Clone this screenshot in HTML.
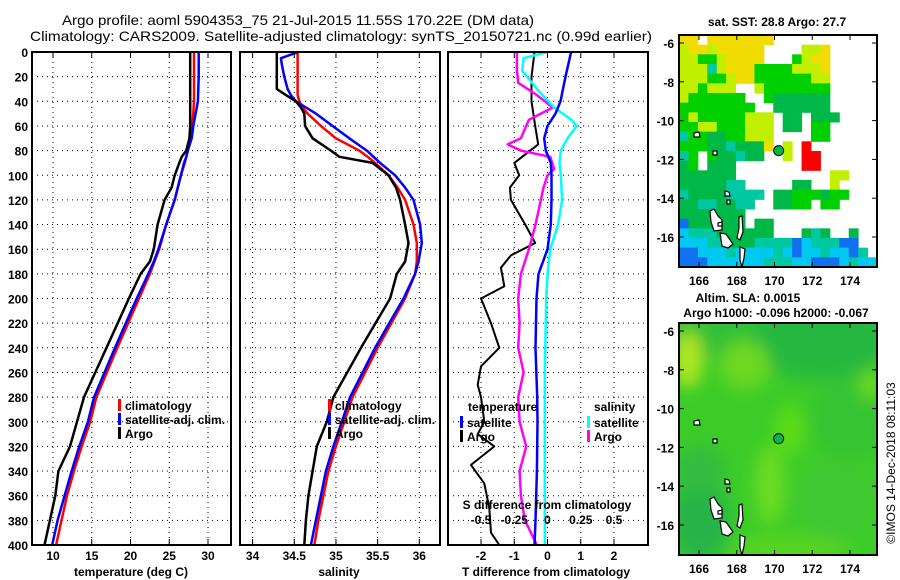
<!DOCTYPE html>
<html><head><meta charset="utf-8"><style>
body{margin:0;background:#fff;}
svg{display:block;font-family:"Liberation Sans",Arial,sans-serif;}
.t{font-size:12px;font-weight:bold;fill:#000;}
</style></head><body>
<svg id="chart" width="900" height="580" viewBox="0 0 900 580" xmlns="http://www.w3.org/2000/svg">
<rect width="900" height="580" fill="#fff"/>
<text x="298" y="25" text-anchor="middle" font-size="14" textLength="472" lengthAdjust="spacingAndGlyphs">Argo profile: aoml 5904353_75 21-Jul-2015 11.55S 170.22E (DM data)</text>
<text x="341" y="41" text-anchor="middle" font-size="14" textLength="622" lengthAdjust="spacingAndGlyphs">Climatology: CARS2009. Satellite-adjusted climatology: synTS_20150721.nc (0.99d earlier)</text>
<g id="plots"></g>
<g id="maps"></g>
</svg>
<script>
// ---- data ----
const depthTicks = [0,20,40,60,80,100,120,140,160,180,200,220,240,260,280,300,320,340,360,380,400];
const tempTicks = [10,15,20,25,30];
const salTicks = [34,34.5,35,35.5,36];
const salTickLabels = ["34","34.5","35","35.5","36"];
const tdiffTicks = [-2,-1,0,1,2];
const sdiffTicks = [-0.5,-0.25,0,0.25,0.5];
const sdiffTickLabels = ["-0.5","-0.25","0","0.25","0.5"];

const tempDepth = [0,20,40,60,70,80,85,90,100,110,120,140,160,170,180,200,240,280,300,320,340,360,380,400];
const tempClim = [28.2,28.2,28.2,28.0,27.8,27.4,27.2,27.0,26.5,26.1,25.7,24.6,23.7,23.1,22.5,21.1,18.3,15.6,14.8,13.7,12.7,11.8,11.1,10.4];
const tempSat = [28.8,28.8,28.7,28.1,27.9,27.4,27.2,26.9,26.5,26.1,25.7,24.6,23.6,23.0,22.3,20.8,18.0,15.3,14.5,13.4,12.4,11.5,10.6,9.9];
const tempArgo = [27.7,27.7,27.7,27.7,27.6,27.2,26.6,26.3,25.7,25.3,24.4,23.5,23.0,22.5,21.3,19.8,16.9,14.0,13.1,12.2,10.7,10.3,9.6,8.9];

const salDepth = [0,5,10,20,30,35,40,45,50,60,70,80,85,90,100,110,120,140,155,170,180,200,240,280,300,320,340,360,380,400];
const salClim = [34.54,34.54,34.54,34.54,34.54,34.54,34.56,34.6,34.66,34.82,35.0,35.28,35.38,35.47,35.63,35.74,35.83,35.93,35.97,35.97,35.95,35.83,35.5,35.2,35.1,35.0,34.91,34.85,34.79,34.74];
const salSat = [34.55,34.34,34.35,34.38,34.42,34.46,34.52,34.64,34.76,34.96,35.16,35.37,35.45,35.53,35.71,35.83,35.93,36.01,36.03,35.99,35.95,35.81,35.47,35.17,35.07,34.97,34.88,34.82,34.76,34.70];
const salArgo = [34.29,34.29,34.29,34.29,34.29,34.4,34.52,34.58,34.62,34.63,34.72,34.94,35.04,35.44,35.63,35.72,35.77,35.83,35.87,35.83,35.73,35.65,35.3,34.97,34.89,34.77,34.72,34.67,34.64,34.62];

const tSatDepth = [0,20,40,50,60,70,80,90,100,120,140,160,180,200,240,280,300,340,380,400];
const tSatDiff = [0.71,0.54,0.39,0.24,0,-0.1,-0.05,0.1,0.12,0.12,0.1,0,-0.27,-0.33,-0.36,-0.31,-0.3,-0.32,-0.36,-0.39];
const tArgoDepth = [0,20,40,60,75,80,90,100,110,120,140,155,165,175,190,200,220,240,255,270,280,300,310,320,335,350,370,390,400];
const tArgoDiff = [-0.39,-0.48,-0.48,-0.37,-0.28,-0.52,-1.0,-0.85,-1.13,-1.1,-0.67,-0.37,-1.1,-1.4,-1.3,-2.0,-1.7,-1.45,-2.0,-2.1,-2.0,-1.9,-2.1,-1.6,-2.3,-1.9,-1.75,-1.7,-1.45];
const sSatDepth = [0,5,15,30,45,55,60,70,80,90,100,120,140,160,180,200,260,300,400];
const sSatDiff = [0,-0.18,-0.19,-0.08,0.05,0.18,0.22,0.15,0.1,0.09,0.1,0.11,0.08,0.02,0,-0.01,-0.02,-0.02,-0.02];
const sArgoDepth = [0,15,25,35,45,50,55,60,65,70,75,80,85,95,100,110,120,140,160,180,200,220,240,260,280,300,320,340,360,380,400];
const sArgoDiff = [-0.23,-0.23,-0.22,-0.08,0.04,-0.05,-0.14,-0.16,-0.18,-0.2,-0.3,-0.2,0.02,0.05,0,-0.03,-0.05,-0.09,-0.14,-0.2,-0.22,-0.21,-0.22,-0.18,-0.22,-0.21,-0.16,-0.21,-0.2,-0.17,-0.08];

// ---- helpers ----
const NS="http://www.w3.org/2000/svg";
const plots=document.getElementById('plots');
function mk(tag,attrs,parent){const e=document.createElementNS(NS,tag);for(const k in attrs)e.setAttribute(k,attrs[k]);(parent||plots).appendChild(e);return e;}
const yTop=52,yBot=545;
function yD(d){return yTop+(d/400)*(yBot-yTop);}
function lin(d0,d1,r0,r1){return v=>r0+(v-d0)/(d1-d0)*(r1-r0);}

const xT=lin(10,30,53,208);
const xS=lin(34,36,252.6,419.3);
const xTd=lin(-2,2,481,614);
const xSd=lin(-0.5,0.5,481,614);

const panels=[{x0:32,x1:231,name:'temperature-panel'},{x0:240,x1:440,name:'salinity-panel'},{x0:448,x1:648,name:'difference-panel'}];

function grid(p,xs,scale){
  depthTicks.forEach(d=>{if(d>0&&d<400){const l=mk('line',{x1:p.x0,x2:p.x1,y1:yD(d),y2:yD(d),stroke:'#000','stroke-width':1,'stroke-dasharray':'1,4'});

}});
  xs.forEach(v=>{const x=scale(v);if(x>p.x0+2&&x<p.x1-2){const l=mk('line',{x1:x,x2:x,y1:yTop,y2:yBot,stroke:'#000','stroke-width':1,'stroke-dasharray':'1,4'});


mk('line',{x1:x,x2:x,y1:yTop,y2:yTop+6,stroke:'#000'});mk('line',{x1:x,x2:x,y1:yBot,y2:yBot-6,stroke:'#000'});}});
}
function frame(p){const r=mk('rect',{x:p.x0,y:yTop,width:p.x1-p.x0,height:yBot-yTop,fill:'none',stroke:'#000','stroke-width':2});

}
function series(depths,vals,scale,color,w,name){
  const pts=depths.map((d,i)=>scale(vals[i]).toFixed(1)+','+yD(d).toFixed(1)).join(' ');
  const pl=mk('polyline',{points:pts,fill:'none',stroke:color,'stroke-width':w,'stroke-linejoin':'round'});
  
  
}
function text(x,y,s,anchor,name,extra){const t=mk('text',Object.assign({x:x,y:y,'text-anchor':anchor||'start',class:'t'},extra||{}));t.textContent=s;

return t;}
function legend(x,y,color,label,name){const b=mk('rect',{x:x,y:y-8,width:3,height:12,fill:color});


text(x+7,y+3,label,'start',name);}

grid(panels[0],tempTicks,xT);
grid(panels[1],salTicks,xS);
grid(panels[2],tdiffTicks,xTd);

depthTicks.forEach(d=>{text(28,yD(d)+5,String(d),'end','depth-tick-label');});

series(tempDepth,tempClim,xT,'#ff0000',2.5,'temp-climatology-line');
series(tempDepth,tempSat,xT,'#0000ff',2.5,'temp-satellite-line');
series(tempDepth,tempArgo,xT,'#000000',2.5,'temp-argo-line');
series(salDepth,salClim,xS,'#ff0000',2.5,'sal-climatology-line');
series(salDepth,salSat,xS,'#0000ff',2.5,'sal-satellite-line');
series(salDepth,salArgo,xS,'#000000',2.5,'sal-argo-line');
series(tArgoDepth,tArgoDiff,xTd,'#000000',2,'tdiff-argo-line');
series(sArgoDepth,sArgoDiff,xSd,'#ff00ff',2.5,'sdiff-argo-line');
series(sSatDepth,sSatDiff,xSd,'#00ffff',2.5,'sdiff-satellite-line');
series(tSatDepth,tSatDiff,xTd,'#0000ff',2.5,'tdiff-satellite-line');

panels.forEach(frame);

tempTicks.forEach(v=>text(xT(v),560,String(v),'middle','temp-tick-label'));
salTicks.forEach((v,i)=>text(xS(v),560,salTickLabels[i],'middle','sal-tick-label'));
tdiffTicks.forEach(v=>text(xTd(v),560,String(v),'middle','tdiff-tick-label'));
sdiffTicks.forEach((v,i)=>text(xSd(v),524,sdiffTickLabels[i],'middle','sdiff-tick-label'));
text(131,576,'temperature (deg C)','middle','x-axis-title-temperature');
text(339,576,'salinity','middle','x-axis-title-salinity');
text(546,576,'T difference from climatology','middle','x-axis-title-tdiff');
text(547,509,'S difference from climatology','middle','x-axis-title-sdiff');

legend(118,407,'#ff0000','climatology','legend-climatology');
legend(118,421,'#0000ff','satellite-adj. clim.','legend-satellite');
legend(118,435,'#000000','Argo','legend-argo');
legend(328,407,'#ff0000','climatology','legend2-climatology');
legend(328,421,'#0000ff','satellite-adj. clim.','legend2-satellite');
legend(328,435,'#000000','Argo','legend2-argo');
text(468,411,'temperature','start','legend-temperature-heading');
legend(460,424,'#0000ff','satellite','legend-tdiff-satellite');
legend(460,438,'#000000','Argo','legend-tdiff-argo');
text(594,411,'salinity','start','legend-salinity-heading');
legend(587,424,'#00ffff','satellite','legend-sdiff-satellite');
legend(587,438,'#ff00ff','Argo','legend-sdiff-argo');

// ---- maps ----
const maps=document.getElementById('maps');
const lonTicks=[166,168,170,172,174];
const latTicks=[-6,-8,-10,-12,-14,-16];
const argoLon=170.22, argoLat=-11.55;
const sstRows=[
"yy.yyyyyyy...........",
"lyylyyyyy....lly.....",
"llgglyyyy...glyy.....",
"llltlyyyggggllly.....",
"lllgglyyggggggll.....",
"llglll..lggggggg.....",
"lgggggg..gGGGGGG.....",
"gggggggg..GGGGGG.....",
"glggggglll.GG.GGG....",
"ggllggglll.GG.gg.....",
"tggGGgglll....gg.....",
"gggGGtGGGy.l.r.......",
"tg.gGGtGG..l.rr......",
"Gg.GGG.......rr......",
"GGGGGG..........ll...",
"GGGGGtt.....GG..l....",
"tGGGGtttt.GGgggGgg...",
"GGttGGtt..GGgg.gg....",
"GGGGGGG..............",
"bGGGGGG.GG...........",
"ctttGGGGGG...GtG..G..",
"cccttGGGttttbctttbb..",
"bbccctcccctcbcctccbt.",
"bbbcccccctttccbbbctcc"];
const sstColors={y:'#f0dc00',l:'#c0f000',g:'#00d000',G:'#00b848',t:'#00c8a0',c:'#00c8f0',b:'#1070f0',r:'#ff0000'};

function mapFrame(name){
  const g=document.createElementNS(NS,'g');maps.appendChild(g);
  
  
  return g;
}
function mkm(tag,attrs,parent){const e=document.createElementNS(NS,tag);for(const k in attrs)e.setAttribute(k,attrs[k]);parent.appendChild(e);return e;}
function drawMap(g,oy,fillFn,labelY){
  const x0=679,x1=877,y0=oy,y1=oy+232;
  const lx=lin(166,174,699,850), ly=lin(-6,-16,oy+8,oy+202);
  const clip='clip'+oy;
  const cp=mkm('clipPath',{id:clip},g);mkm('rect',{x:x0,y:y0,width:x1-x0,height:y1-y0},cp);
  const inner=mkm('g',{'clip-path':'url(#'+clip+')'},g);
  fillFn(inner,x0,y0,x1,y1);
  // islands (coords relative to top map, oy=35)
  const isl=[[[710,211],[714,209],[718,216],[722,220],[722,230],[714,231],[711,222]],[[720,233],[726,234],[733,244],[728,248],[722,246]],[[739,217],[742,216],[743,232],[740,240],[737,238],[739,228]],[[694,133],[699,132],[700,137],[694,137]],[[713,151],[717,151],[717,155],[713,155]],[[725,191],[729,192],[730,196],[725,196]],[[727,200],[730,200],[730,204],[727,204]],[[740,247],[745,249],[744,258],[742,267],[740,260]],[[718,223],[722,222],[722,226],[718,226]]];
  isl.forEach(p=>{const pl=mkm('polygon',{points:p.map(q=>q[0]+','+(q[1]-35+oy)).join(' '),fill:'#fff',stroke:'#000','stroke-width':1.2},inner);
  
  });
  const c=mkm('circle',{cx:lx(argoLon),cy:ly(argoLat),r:5,fill:'#00b848',stroke:'#000','stroke-width':1},inner);
  
  
  const fr=mkm('rect',{x:x0,y:y0,width:x1-x0,height:y1-y0,fill:'none',stroke:'#000','stroke-width':2},g);
  
  
  lonTicks.forEach(v=>{const x=lx(v);mkm('line',{x1:x,x2:x,y1:y0,y2:y0+5,stroke:'#000'},g);mkm('line',{x1:x,x2:x,y1:y1,y2:y1-5,stroke:'#000'},g);
    const t=mkm('text',{x:x,y:labelY,'text-anchor':'middle',class:'t'},g);t.textContent=v;
    
    });
  latTicks.forEach(v=>{const y=ly(v);mkm('line',{x1:x0,x2:x0+5,y1:y,y2:y,stroke:'#000'},g);mkm('line',{x1:x1,x2:x1-5,y1:y,y2:y,stroke:'#000'},g);
    const t=mkm('text',{x:674,y:y+5,'text-anchor':'end',class:'t'},g);t.textContent=v;
    
    });
}
const g1=mapFrame('sst-map');
drawMap(g1,35,(p,x0,y0,x1,y1)=>{
  const cw=(x1-x0)/21,ch=(y1-y0)/24;
  sstRows.forEach((row,r)=>{for(let i=0;i<row.length;i++){const k=row[i];if(sstColors[k]){mkm('rect',{x:x0+i*cw,y:y0+r*ch,width:cw+0.5,height:ch+0.5,fill:sstColors[k]},p);}}});
},285);
const t1=mkm('text',{x:777,y:26,'text-anchor':'middle',class:'t'},g1);t1.textContent='sat. SST: 28.8 Argo: 27.7';



const g2=mapFrame('sla-map');
drawMap(g2,323,(p,x0,y0,x1,y1)=>{
  const defs=mkm('defs',{},p);const f=mkm('filter',{id:'blur',x:'-50%',y:'-50%',width:'200%',height:'200%'},defs);mkm('feGaussianBlur',{stdDeviation:8},f);
  mkm('rect',{x:x0,y:y0,width:x1-x0,height:y1-y0,fill:'#3ccc28'},p);
  const bl=mkm('g',{filter:'url(#blur)'},p);
  [[700,330,60,30,'#30c038'],[820,340,70,40,'#28b840'],[850,420,40,40,'#34c430'],[688,360,15,28,'#b0e620'],[745,365,25,25,'#6cd820'],[790,430,15,25,'#5cdc18'],[770,485,15,40,'#6cdc20'],[790,550,60,15,'#58d420'],[700,520,30,40,'#28b448'],[700,470,25,25,'#30bc40'],[870,385,10,15,'#6cdc20'],[835,500,40,40,'#40c830']].forEach(e=>mkm('ellipse',{cx:e[0],cy:e[1],rx:e[2],ry:e[3],fill:e[4]},bl));
},573);
const t2=mkm('text',{x:748,y:302,'text-anchor':'middle',class:'t'},g2);t2.textContent='Altim. SLA: 0.0015';


const t3=mkm('text',{x:776,y:317,'text-anchor':'middle',class:'t'},g2);t3.textContent='Argo h1000: -0.096 h2000: -0.067';


const t4=mkm('text',{x:895,y:463,'text-anchor':'middle','font-size':12,transform:'rotate(-90 895 463)'},maps);t4.textContent='©IMOS 14-Dec-2018 08:11:03';


</script>
</body></html>
